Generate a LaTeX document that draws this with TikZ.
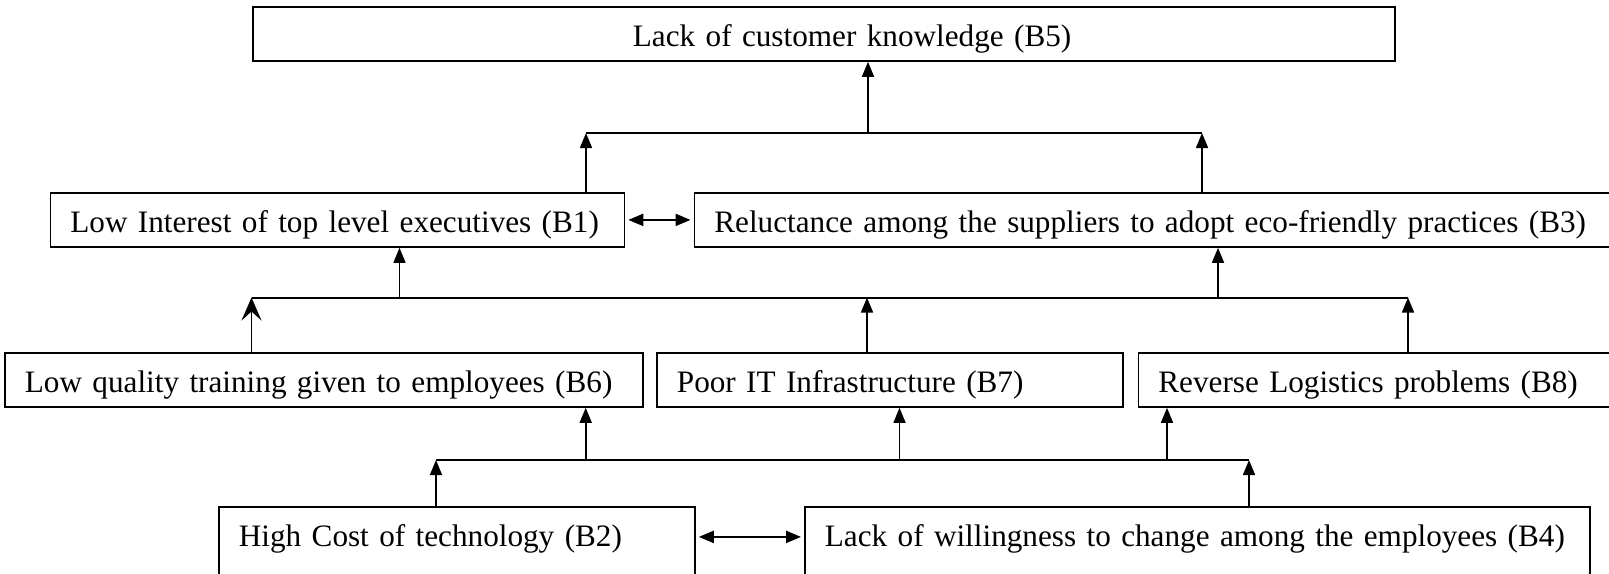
\documentclass[tikz,border=0pt]{standalone}
\usepackage{fontspec}
\setmainfont{Liberation Serif}
\usetikzlibrary{arrows.meta}
\tikzset{
  box/.style={draw,line width=1.8pt,anchor=north west,inner xsep=20pt,inner ysep=0pt,
    text height=40pt,text depth=14pt,align=left,font=\fontsize{31.2}{37}\selectfont,
    execute at begin node={\leavevmode\hbox\bgroup},execute at end node={\egroup}},
  tall/.style={text depth=35pt},
  bus/.style={line width=2pt},
  up/.style={line width=1.6pt,->},
  both/.style={line width=2.2pt,<->,shorten <=3pt,shorten >=3pt}
}
\begin{document}
\begin{tikzpicture}[x=1pt,y=-1pt,>={Triangle[length=15pt,width=12pt]}]
\useasboundingbox (0,0) rectangle (1609,573);
\clip (0,0) rectangle (1609,573);
\node[box,text width=1102pt] (b5) at (252,6) {\hspace*{360pt}Lack of customer knowledge (B5)};
\node[box,text width=534pt] (b1) at (49.5,192) {Low Interest of top level executives (B1)};
\node[box,text width=890pt] (b3) at (693.5,192) {Reluctance among the suppliers to adopt eco-friendly practices (B3)};
\node[box,text width=598pt] (b6) at (4,352) {Low quality training given to employees (B6)};
\node[box,text width=426pt] (b7) at (656,352) {Poor IT Infrastructure (B7)};
\node[box,text width=440pt] (b8) at (1137.5,352) {Reverse Logistics problems (B8)};
\node[box,tall,text width=436pt] (b2) at (218,506) {High Cost of technology (B2)};
\node[box,tall,text width=745pt] (b4) at (804,506) {Lack of willingness to change among the employees (B4)};

\coordinate (t1) at (586,133);
\coordinate (tc) at (868,133);
\coordinate (t2) at (1202,133);
\draw[bus] (t1)--(t2);
\draw[up] (tc)--(b5.south -| tc);
\draw[up] (b1.north -| t1)--(t1);
\draw[up] (b3.north -| t2)--(t2);
\draw[both] (b1.east)--(b3.west);

\coordinate (m1) at (251.5,297.5);
\coordinate (m2) at (399.5,297.5);
\coordinate (m3) at (867,297.5);
\coordinate (m4) at (1218,297.5);
\coordinate (m5) at (1408,297.5);
\draw[bus] (m1)--(m5);
\draw[up] (m2)--(b1.south -| m2);
\draw[up] (m4)--(b3.south -| m4);
\draw[line width=1.6pt,-{Stealth[length=23pt,width=20pt,inset=9pt]}] (b6.north -| m1)--(m1);
\draw[up] (b7.north -| m3)--(m3);
\draw[up] (b8.north -| m5)--(m5);

\coordinate (l1) at (436,460);
\coordinate (l2) at (585.7,460);
\coordinate (l3) at (899.5,460);
\coordinate (l4) at (1167,460);
\coordinate (l5) at (1249,460);
\draw[bus] (l1)--(l5);
\draw[up] (l2)--(b6.south -| l2);
\draw[up] (l3)--(b7.south -| l3);
\draw[up] (l4)--(b8.south -| l4);
\draw[up] (b2.north -| l1)--(l1);
\draw[up] (b4.north -| l5)--(l5);
\draw[both] ([yshift=7.5pt]b2.east)--([yshift=7.5pt]b4.west);
\end{tikzpicture}
\end{document}
